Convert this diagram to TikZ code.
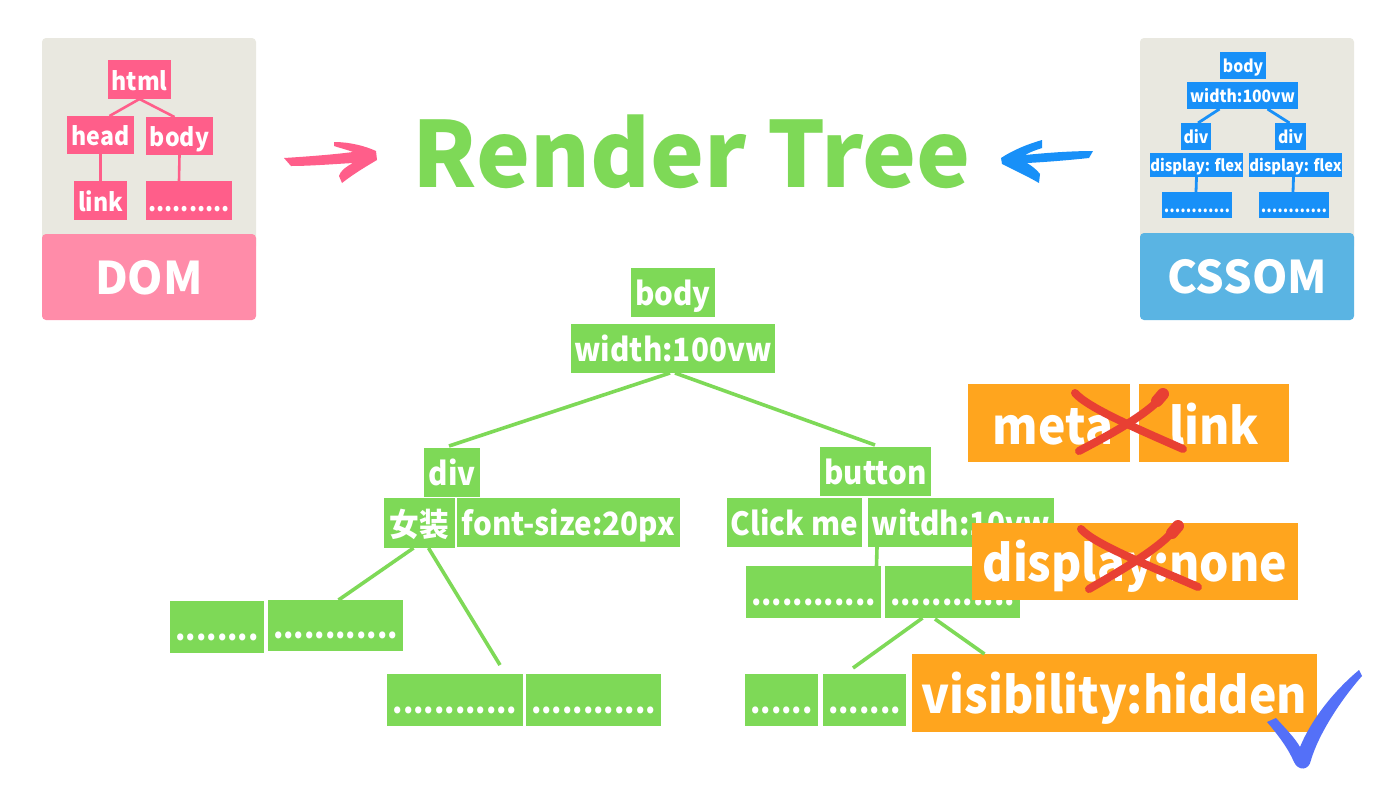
\documentclass[tikz,border=0pt]{standalone}
\usepackage{fontspec}
\setmainfont{Noto Sans CJK JP}
\newfontfamily\boxfont{Noto Sans CJK JP}[FakeStretch=0.925]
\usetikzlibrary{calc}
\definecolor{grn}{HTML}{7ED957}
\definecolor{org}{HTML}{FFA51E}
\definecolor{pnk}{HTML}{FF5E8A}
\definecolor{pnkl}{HTML}{FF8CA9}
\definecolor{gry}{HTML}{E9E8E0}
\definecolor{blu}{HTML}{1890F8}
\definecolor{blul}{HTML}{5AB4E3}
\definecolor{redx}{HTML}{E84033}
\definecolor{chk}{HTML}{5470F8}
\tikzset{
  box/.style args={#1/#2/#3}{rectangle,fill=#1,text=white,inner sep=0pt,outer sep=0pt,
    font=\boxfont\bfseries\fontsize{#2}{#2}\selectfont,
    execute at begin node={\rule[-.2em]{0pt}{1.24em}}},
  lab/.style args={#1/#2}{rectangle,fill=#1,text=white,inner sep=0pt,outer sep=0pt,
    font=\bfseries\fontsize{#2}{#2}\selectfont,
    execute at begin node={\rule[-.2em]{0pt}{1.16em}}},
  sz/.style args={#1/#2}{minimum width=#1pt,minimum height=#2pt},
  gb/.style={box=grn/32/x},
  ob/.style={box=org/50/x},
  pb/.style={box=pnk/25/x},
  bb/.style={box=blu/17/x},
  bbs/.style={box=blu/16/x},
  glink/.style={draw=grn,line width=3.6pt},
  plink/.style={draw=pnk,line width=2.6pt},
  blink/.style={draw=blu,line width=2.8pt},
  panel/.style={fill=gry,rounded corners=4pt},
  cross/.style={draw=redx,line width=8pt,line cap=round},
  crossend/.style={draw=redx,line width=12pt,line cap=round}
}
\begin{document}
\begin{tikzpicture}[x=1pt,y=-1pt]
\useasboundingbox (0,0) rectangle (1400,788);
\fill[white] (0,0) rectangle (1400,788);
% panels
\fill[panel] (42,38) rectangle (256,250);
\fill[panel] (1140,38) rectangle (1354,250);
\node[lab=pnkl/45,sz=214/86,rounded corners=4pt,anchor=north west] (dom) at (42,234) {DOM};
\node[lab=blul/45,sz=214/87,rounded corners=4pt,anchor=north west] (cssom) at (1140,233) {CSSOM};
% DOM tree
\node[pb,sz=63/39] (html) at (139.5,79.5) {html};
\node[pb,sz=67/38] (head) at (100.5,135) {head};
\node[pb,sz=67/38] (dbody) at (179.5,136) {body};
\node[pb,sz=53/39] (dlink) at (100.5,200.5) {link};
\node[box=pnk/25/x,sz=86/39] (ddots) at (189,200.5) {..........};
\draw[plink] (html.south) -- ([xshift=9pt]head.north);
\draw[plink] (html.south) -- ([xshift=-5pt]dbody.north);
\draw[plink] (head.south) -- (dlink.north);
\draw[plink] (dbody.south) -- ([xshift=-10pt]ddots.north);
% CSSOM tree
\node[bb,sz=46/27] (cbody) at (1243,65.5) {body};
\node[bb,sz=111/27] (cwidth) at (1242.5,95.5) {width:100vw};
\node[bb,sz=30/27] (cdiva) at (1196,136.5) {div};
\node[bb,sz=31/27] (cdivb) at (1290.5,136.5) {div};
\node[bbs,sz=91/24] (cdisa) at (1196.5,165) {display: flex};
\node[bbs,sz=91/24] (cdisb) at (1295.5,165) {display: flex};
\node[bb,sz=70/26] (cdota) at (1197,205) {............};
\node[bb,sz=70/26] (cdotb) at (1294,205) {............};
\draw[blink] ([xshift=-23pt]cwidth.south) -- ([xshift=2pt]cdiva.north);
\draw[blink] ([xshift=25pt]cwidth.south) -- ([xshift=-1pt]cdivb.north);
\draw[blink] (cdisa.south) -- ([xshift=-1pt]cdota.north);
\draw[blink] ([xshift=-2pt]cdisb.south) -- ([xshift=-1pt]cdotb.north);
% arrows
\fill[pnk] (284,158) .. controls (300,157) and (330,155) .. (353,152) .. controls (348,150) and (340,148) .. (334,146) -- (334,142) .. controls (350,142) and (365,146) .. (376,151) -- (377,160) .. controls (365,167) and (352,175) .. (342,183) -- (339,176) .. controls (340,171) and (347,166) .. (353,163) .. controls (335,164) and (310,166) .. (291,166) -- cycle;
\fill[blu] (1001,158) .. controls (1013,150) and (1028,144) .. (1042,140) -- (1042,148) .. controls (1036,150) and (1030,152) .. (1025,155) .. controls (1045,153) and (1070,151) .. (1093,151) -- (1089,158) .. controls (1070,160) and (1047,162) .. (1027,163) .. controls (1032,166) and (1037,170) .. (1040,174) -- (1039,183) .. controls (1027,176) and (1014,170) .. (1002,164) -- cycle;
% title
\node[text=grn,inner sep=0pt,font=\bfseries\fontsize{91}{91}\selectfont] (title) at (692,152) {Render Tree};
% central tree
\node[gb,sz=84/49] (body) at (673,292.5) {body};
\node[gb,sz=204/49] (width) at (673,348.5) {width:100vw};
\node[gb,sz=56/49] (div) at (452,472.5) {div};
\node[gb,sz=71/50] (girl) at (419.5,523) {女装};
\node[gb,sz=223/49] (fs) at (568.5,522.5) {font-size:20px};
\node[gb,sz=111/49] (button) at (875.5,471.5) {button};
\node[gb,sz=135/49] (click) at (794.5,522) {Click me};
\node[gb,sz=186/49] (witdh) at (961,522.5) {witdh:10vw};
\node[gb,sz=94/52] (da) at (217,627) {........};
\node[gb,sz=135/51] (db) at (335.5,625.5) {............};
\node[gb,sz=136/52] (dc) at (455,700) {............};
\node[gb,sz=135/52] (dd) at (593.5,700) {............};
\node[gb,sz=135/52] (de) at (813.5,592) {............};
\node[gb,sz=135/52] (df) at (952.5,592) {............};
\node[gb,sz=73/52] (dg) at (781.5,700) {......};
\node[gb,sz=83/52] (dh) at (864.5,700) {.......};
\coordinate (divtop) at (449,446);
\coordinate (buttop) at (875,445);
\coordinate (dcp) at (500,665);
\coordinate (dgp) at (853,668);
\draw[glink] ([xshift=-3pt]width.south) -- (divtop);
\draw[glink] ([xshift=2pt]width.south) -- (buttop);
\draw[glink] ([xshift=-6pt]girl.south) -- ([xshift=3pt]db.north);
\draw[glink] ([xshift=9pt]girl.south) -- (dcp);
\draw[glink] ([xshift=-84pt]witdh.south) -- ([xshift=63pt]de.north);
\draw[glink] ([xshift=-30pt]df.south) -- (dgp);
% orange boxes
\node[ob,sz=162/78] (meta) at (1049,423) {\hspace{8pt}meta};
\node[ob,sz=150/78] (olink) at (1214,423) {link};
\node[ob,sz=326/77] (none) at (1135,561) {display:none};
\coordinate (dfb) at (935,619);
\node[ob,sz=405/78] (vis) at (1114.5,693) {visibility:hidden};
\draw[glink] (dfb) -- ([xshift=-130pt]vis.north);
% crosses
\draw[cross] (1075,393) .. controls (1088,408) and (1140,430) .. (1183,449);
\draw[cross] (1161,398) .. controls (1145,415) and (1115,432) .. (1079,451);
\draw[crossend] (1163,394) -- (1157,401);
\draw[cross] (1081,529) .. controls (1095,545) and (1155,568) .. (1198,587);
\draw[cross] (1176,528) .. controls (1160,548) and (1125,568) .. (1089,589);
\draw[crossend] (1178,526) -- (1172,533);
% check
\fill[chk] (1267,722) -- (1276,718) .. controls (1285,728) and (1295,738) .. (1300,747) .. controls (1312,718) and (1335,690) .. (1359,670) -- (1362,676) .. controls (1345,695) and (1320,730) .. (1311,760) .. controls (1309,771) and (1298,771) .. (1294,762) .. controls (1288,748) and (1278,735) .. (1267,722) -- cycle;
\end{tikzpicture}
\end{document}
